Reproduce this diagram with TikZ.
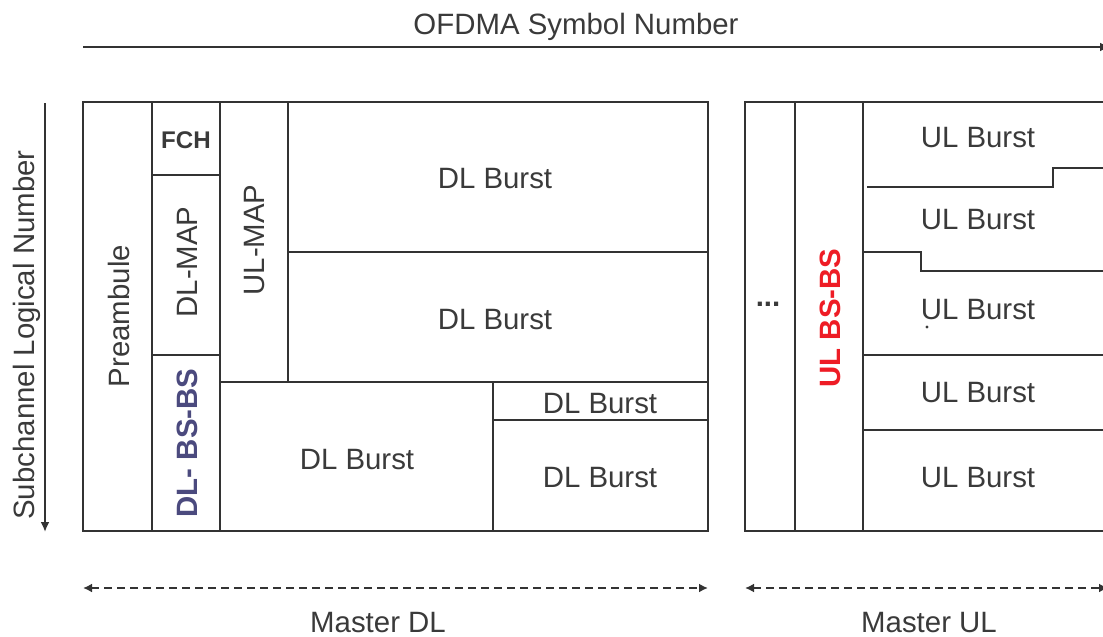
\documentclass[tikz,border=0pt]{standalone}
\usepackage{fontspec}
\setmainfont{Liberation Sans}
\usepackage{tikz}
\usetikzlibrary{arrows.meta}
\definecolor{FrameGray}{HTML}{333333}
\definecolor{TextGray}{HTML}{3A3A3A}
\definecolor{RelayBlue}{HTML}{4B4A7E}
\definecolor{RelayRed}{HTML}{EE1C25}
\newcommand{\zonefont}{\fontsize{29.4}{34}\selectfont}

\begin{document}
\begin{tikzpicture}[x=1pt,y=-1pt,
  zone/.style={draw=FrameGray,line width=2.7pt},
  lbl/.style={text=TextGray,font=\zonefont,inner sep=0pt},
  vlbl/.style={lbl,rotate=90},
  axis/.style={draw=FrameGray,line width=2.6pt,-{Latex[length=10pt,width=9pt]}},
  span/.style={draw=FrameGray,line width=2.2pt,dash pattern=on 8pt off 5pt,
    {Latex[length=9pt,width=9pt]}-{Latex[length=9pt,width=9pt]}}]
\clip (0,0) rectangle (1103,637);
% axes
\coordinate (symL) at (83,47);
\coordinate (symR) at (1110,47);
\draw[axis] (symL) -- (symR);
\node[lbl] (symtxt) at (576,27) {OFDMA Symbol Number};
\coordinate (subT) at (45,103);
\coordinate (subB) at (45,532);
\draw[axis] (subT) -- (subB);
\node[vlbl] (subtxt) at (27,335) {Subchannel Logical Number};

% master DL zone
\draw[zone] (83,102) rectangle (708,531);
\draw[zone] (152,102) -- (152,531);
\draw[zone] (220,102) -- (220,531);
\draw[zone] (152,175) -- (220,175);
\draw[zone] (152,355) -- (220,355);
\draw[zone] (288,102) -- (288,382);
\draw[zone] (220,382) -- (708,382);
\draw[zone] (288,252) -- (708,252);
\draw[zone] (493,382) -- (493,531);
\draw[zone] (493,420) -- (708,420);
\node[vlbl] (pre) at (119,316) {Preambule};
\node[lbl,font=\zonefont\bfseries,scale=0.82] (fch) at (186,140) {FCH};
\node[vlbl] (dlmap) at (187,262) {DL-MAP};
\node[vlbl,text=RelayBlue,font=\zonefont\bfseries] (dlrelay) at (187,443) {DL- BS-BS};
\node[vlbl] (ulmap) at (255,240) {UL-MAP};
\node[lbl] (dlb1) at (495,179) {DL Burst};
\node[lbl] (dlb2) at (495,320) {DL Burst};
\node[lbl] (dlb3) at (357,460) {DL Burst};
\node[lbl] (dlb4) at (600,404) {DL Burst};
\node[lbl] (dlb5) at (600,478) {DL Burst};

% master UL zone
\draw[zone] (745,102) rectangle (1120,531);
\draw[zone] (795,102) -- (795,531);
\draw[zone] (863,102) -- (863,531);
\draw[zone] (867,187) -- (1053,187) -- (1053,168) -- (1110,168);
\draw[zone] (863,252) -- (921,252) -- (921,271) -- (1110,271);
\draw[zone] (863,355) -- (1110,355);
\draw[zone] (863,430) -- (1110,430);
\node[lbl,font=\zonefont\bfseries] (more) at (768,304) {...};
\node[vlbl,text=RelayRed,font=\zonefont\bfseries] (ulrelay) at (830,318) {UL BS-BS};
\node[lbl] (ulb1) at (978,138) {UL Burst};
\node[lbl] (ulb2) at (978,220) {UL Burst};
\node[lbl] (ulb3) at (978,310) {UL Burst};
\fill[TextGray] (927,327) circle (1.7pt);
\node[lbl] (ulb4) at (978,393) {UL Burst};
\node[lbl] (ulb5) at (978,478) {UL Burst};

% master spans
\coordinate (dlL) at (83,588);
\coordinate (dlR) at (708,588);
\draw[span] (dlL) -- (dlR);
\node[lbl] (dltxt) at (378,623) {Master DL};
\coordinate (ulL) at (745,588);
\coordinate (ulR) at (1108,588);
\draw[span] (ulL) -- (ulR);
\node[lbl] (ultxt) at (929,623) {Master UL};
\end{tikzpicture}
\end{document}
